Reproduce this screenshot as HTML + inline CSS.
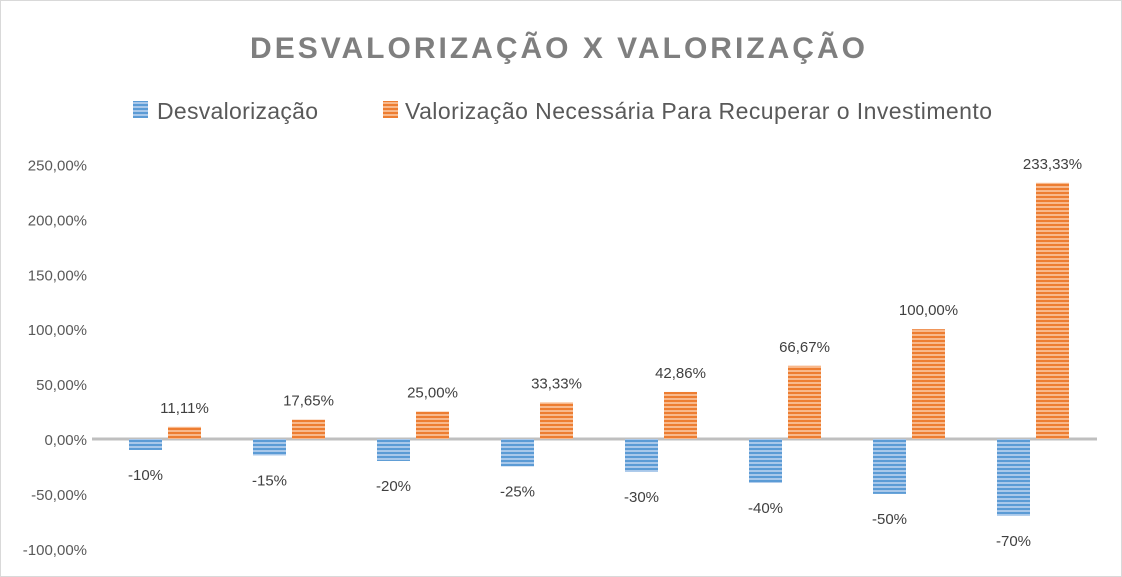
<!DOCTYPE html>
<html><head><meta charset="utf-8"><style>
body{margin:0;background:#fff;}
svg{display:block;font-family:"Liberation Sans",sans-serif;}
</style></head><body>
<svg width="1122" height="577">
<defs>
<pattern id="pb" width="4" height="4" patternUnits="userSpaceOnUse"><rect width="4" height="4" fill="#a9c8ea"/><rect width="4" height="2" fill="#5b9bd5"/></pattern>
<pattern id="po" width="4" height="4" patternUnits="userSpaceOnUse"><rect width="4" height="4" fill="#f8b98c"/><rect width="4" height="2" fill="#ed7d31"/></pattern>
</defs>
<rect x="0" y="0" width="1122" height="577" fill="#fff" stroke="#d9d9d9" stroke-width="2"/>
<text x="559" y="58" text-anchor="middle" font-size="30" font-weight="bold" fill="#7f7f7f" letter-spacing="3">DESVALORIZAÇÃO X VALORIZAÇÃO</text>
<g>
<rect x="133" y="101" width="15" height="17" fill="url(#pb)"/>
<text x="157" y="119" font-size="23" fill="#595959" textLength="161">Desvalorização</text>
<rect x="383" y="101" width="15" height="17" fill="url(#po)"/>
<text x="405" y="119" font-size="23" fill="#595959" textLength="587">Valorização Necessária Para Recuperar o Investimento</text>
</g>
<g id="axis"></g>
<g id="bars"></g>
</svg>
<script>
const categories=["1","2","3","4","5","6","7","8"];
const desval=[-10,-15,-20,-25,-30,-40,-50,-70];
const valor=[11.11,17.65,25,33.33,42.86,66.67,100,233.33];
const ticks=[250,200,150,100,50,0,-50,-100];
const valorLabels=["11,11%","17,65%","25,00%","33,33%","42,86%","66,67%","100,00%","233,33%"];
const desvalLabels=["-10%","-15%","-20%","-25%","-30%","-40%","-50%","-70%"];
const NS="http://www.w3.org/2000/svg";
const y=v=>439-v*54.9/50;
const left=103,cw=124,bw=33;
const ax=document.getElementById('axis'),bs=document.getElementById('bars');
function mk(t,a,p){const e=document.createElementNS(NS,t);for(const k in a)e.setAttribute(k,a[k]);p.appendChild(e);return e;}
ticks.forEach(t=>{
 const e=mk('text',{x:87,y:y(t)+6,'text-anchor':'end','font-size':15,fill:'#595959'},ax);
 
 
 e.textContent=t.toFixed(2).replace('.',',')+'%';
});
categories.forEach((c,i)=>{
 const cx=left+cw*i+cw/2;
 const b=mk('rect',{x:cx-bw-3,y:y(0),width:bw,height:y(desval[i])-y(0),fill:'url(#pb)'},bs);
 
 
 const o=mk('rect',{x:cx+3,y:y(valor[i]),width:bw,height:y(0)-y(valor[i]),fill:'url(#po)'},bs);
 
 
 const lo=mk('text',{x:cx+3+bw/2,y:y(valor[i])-14,'text-anchor':'middle','font-size':15,fill:'#404040'},bs);
 
 
 lo.textContent=valorLabels[i];
 const lb=mk('text',{x:cx-3-bw/2,y:y(desval[i])+30,'text-anchor':'middle','font-size':15,fill:'#404040'},bs);
 
 
 lb.textContent=desvalLabels[i];
});
const z=mk('line',{x1:92,x2:1097,y1:y(0),y2:y(0),stroke:'#bfbfbf','stroke-width':3},ax);


</script>
</body></html>
